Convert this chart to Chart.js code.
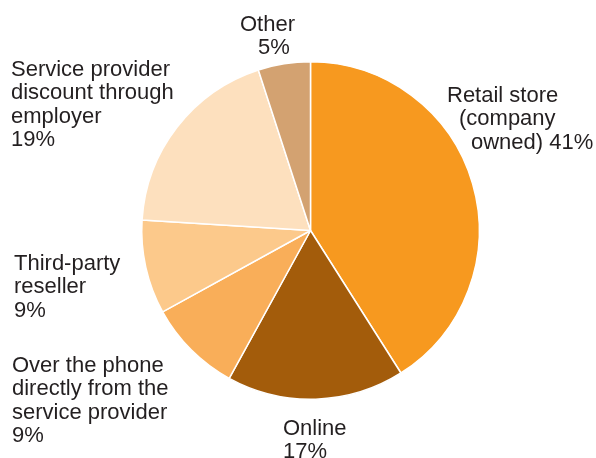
<!DOCTYPE html>
<html>
<head>
<meta charset="utf-8">
<script src="https://cdn.jsdelivr.net/npm/chart.js@4"></script>
<style>
  html, body { margin: 0; padding: 0; background: #fff; }
  #wrap { width: 596px; height: 458px; }
</style>
</head>
<body>
<div id="wrap"><canvas id="graficaCanales"></canvas></div>
<script>
// Canales de compra (porcentaje)
var categorias = ['Retail store (company owned)', 'Online', 'Over the phone directly from the service provider',
  'Third-party reseller', 'Service provider discount through employer', 'Other'];
var valores = [41, 17, 9, 9, 19, 5];
var colores = ['#F7991F', '#A35C0B', '#F9AE59', '#FCC98B', '#FDE0BE', '#D3A271'];

// texto de cada etiqueta, {v} = porcentaje
var lineasEtiqueta = [
  ['Retail store', '(company', 'owned) {v}'],
  ['Online', '{v}'],
  ['Over the phone', 'directly from the', 'service provider', '{v}'],
  ['Third-party', 'reseller', '{v}'],
  ['Service provider', 'discount through', 'employer', '{v}'],
  ['Other', '{v}']
];
// posición (x de cada línea, y de la primera línea)
var posEtiqueta = [
  { x: [447, 459, 471], y: 96 },
  { x: [283, 283], y: 429 },
  { x: [12, 12, 12, 12], y: 366 },
  { x: [14, 14, 14], y: 264 },
  { x: [11, 11, 11, 11], y: 70 },
  { x: [240, 258], y: 25 }
];
var altoLinea = 23.4;

var etiquetas = {
  id: 'etiquetas',
  afterDraw: function (chart) {
    var ctx = chart.ctx;
    ctx.save();
    ctx.font = '22px "Liberation Sans", Arial, sans-serif';
    ctx.fillStyle = '#231F20';
    ctx.textBaseline = 'middle';
    ctx.textAlign = 'left';
    lineasEtiqueta.forEach(function (lineas, i) {
      lineas.forEach(function (l, j) {
        var t = l.replace('{v}', valores[i] + '%');
        ctx.fillText(t, posEtiqueta[i].x[j], posEtiqueta[i].y + j * altoLinea);
      });
    });
    ctx.restore();
  }
};

var grafica = new Chart(document.getElementById('graficaCanales').getContext('2d'), {
  type: 'pie',
  data: {
    labels: categorias,
    datasets: [{
      data: valores,
      backgroundColor: colores,
      borderColor: '#ffffff',
      borderWidth: 1.5
    }]
  },
  options: {
    responsive: true,
    maintainAspectRatio: false,
    animation: false,
    layout: { padding: { top: 61, bottom: 58, left: 141, right: 116 } },
    plugins: {
      legend: { display: false },
      tooltip: { enabled: false }
    }
  },
  plugins: [etiquetas]
});
</script>
</body>
</html>
